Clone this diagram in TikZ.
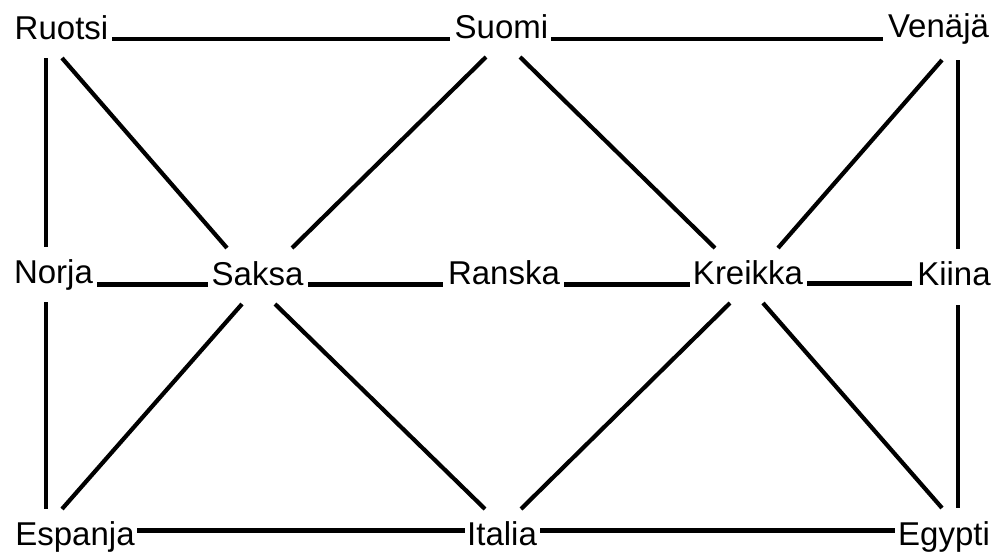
\documentclass[tikz,border=0pt]{standalone}
\usepackage{fontspec}
\setmainfont{Liberation Sans}
\begin{document}
\begin{tikzpicture}[x=1pt,y=-1pt,
  lbl/.style={inner sep=0pt,outer sep=0pt,anchor=base,font=\fontsize{33}{40}\selectfont},
  edge/.style={line width=4.2pt,line cap=butt}]
\useasboundingbox[fill=white] (0,0) rectangle (998,552);
% nodes
\node[lbl] (ruotsi) at (61.5,39) {Ruotsi};
\node[lbl] (suomi) at (501.5,38) {Suomi};
\node[lbl] (venaja) at (938.5,37) {Venäjä};
\node[lbl] (norja) at (53.5,283) {Norja};
\node[lbl] (saksa) at (257.5,285) {Saksa};
\node[lbl] (ranska) at (504,284) {Ranska};
\node[lbl] (kreikka) at (748,284) {Kreikka};
\node[lbl] (kiina) at (954,285) {Kiina};
\node[lbl] (espanja) at (75,545) {Espanja};
\node[lbl] (italia) at (502,545) {Italia};
\node[lbl] (egypti) at (944,545) {Egypti};
% connectors
\draw[edge] ([shift={(50.5,0)}]ruotsi.base) -- ([shift={(-51.5,1)}]suomi.base);
\draw[edge] ([shift={(49.5,1)}]suomi.base) -- ([shift={(-55.5,2)}]venaja.base);
\draw[edge] ([shift={(-15.5,19)}]ruotsi.base) -- ([shift={(-7.5,-36)}]norja.base);
\draw[edge] ([shift={(0.5,19)}]ruotsi.base) -- ([shift={(-30.5,-37)}]saksa.base);
\draw[edge] ([shift={(-15.5,19)}]suomi.base) -- ([shift={(34.5,-37)}]saksa.base);
\draw[edge] ([shift={(18.5,19)}]suomi.base) -- ([shift={(-33,-36)}]kreikka.base);
\draw[edge] ([shift={(3.5,23)}]venaja.base) -- ([shift={(30,-36)}]kreikka.base);
\draw[edge] ([shift={(19.5,23)}]venaja.base) -- ([shift={(4,-36)}]kiina.base);
\draw[edge] ([shift={(43.5,1.5)}]norja.base) -- ([shift={(-49.5,-0.5)}]saksa.base);
\draw[edge] ([shift={(50.5,-0.5)}]saksa.base) -- ([shift={(-61,0.5)}]ranska.base);
\draw[edge] ([shift={(60,0.5)}]ranska.base) -- ([shift={(-58,0.5)}]kreikka.base);
\draw[edge] ([shift={(59,-0.5)}]kreikka.base) -- ([shift={(-42,-1.5)}]kiina.base);
\draw[edge] ([shift={(-7.5,19)}]norja.base) -- ([shift={(-29,-36)}]espanja.base);
\draw[edge] ([shift={(-15.5,19)}]saksa.base) -- ([shift={(-13,-36)}]espanja.base);
\draw[edge] ([shift={(17.5,19)}]saksa.base) -- ([shift={(-17,-36)}]italia.base);
\draw[edge] ([shift={(-18,19)}]kreikka.base) -- ([shift={(19,-36)}]italia.base);
\draw[edge] ([shift={(15,19)}]kreikka.base) -- ([shift={(-2,-37)}]egypti.base);
\draw[edge] ([shift={(4,20)}]kiina.base) -- ([shift={(14,-37)}]egypti.base);
\draw[edge] ([shift={(62,-14.5)}]espanja.base) -- ([shift={(-37,-14.5)}]italia.base);
\draw[edge] ([shift={(38,-14.5)}]italia.base) -- ([shift={(-49,-14.5)}]egypti.base);
\end{tikzpicture}
\end{document}
